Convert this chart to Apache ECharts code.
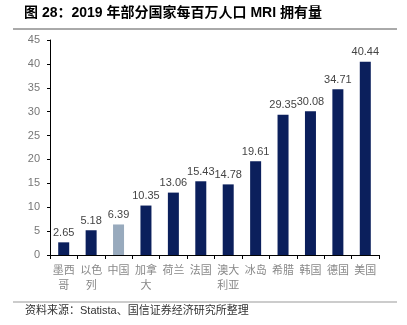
<!DOCTYPE html>
<html><head><meta charset="utf-8">
<script src="https://cdn.jsdelivr.net/npm/echarts@6/dist/echarts.min.js"></script>
<style>html,body{margin:0;padding:0;background:#fff}#c{width:407px;height:325px}</style>
</head><body><div id="c"></div>
<script>
var categories = ['墨西\n哥','以色\n列','中国','加拿\n大','荷兰','法国','澳大\n利亚','冰岛','希腊','韩国','德国','美国'];
var values = [2.65, 5.18, 6.39, 10.35, 13.06, 15.43, 14.78, 19.61, 29.35, 30.08, 34.71, 40.44];
var highlight = '中国';
var yTicks = {min: 0, max: 45, interval: 5};
var titleText = '图 28：2019 年部分国家每百万人口 MRI 拥有量';
var sourceText = '资料来源：Statista、国信证券经济研究所整理';

var FONT = '"Liberation Sans","Noto Sans CJK SC",sans-serif';
var chart = echarts.init(document.getElementById('c'));
chart.setOption({
  animation: false,
  textStyle: {fontFamily: FONT},
  grid: {left: 50, right: 28, top: 40, bottom: 70},
  graphic: [
    {type: 'text', left: 24, top: 6, style: {text: titleText, font: 'bold 14px ' + FONT, fill: '#000'}},
    {type: 'line', shape: {x1: 13, y1: 29, x2: 397, y2: 29}, style: {stroke: '#555', lineWidth: 1}},
    {type: 'line', shape: {x1: 13, y1: 302, x2: 397, y2: 302}, style: {stroke: '#999', lineWidth: 1}},
    {type: 'text', left: 25, top: 305, style: {text: sourceText, font: '11px ' + FONT, fill: '#333'}}
  ],
  xAxis: {
    type: 'category', data: categories,
    axisLine: {lineStyle: {color: '#000', width: 1}},
    axisTick: {show: true, interval: 0, length: 4, lineStyle: {color: '#000'}},
    axisLabel: {interval: 0, color: '#888', fontSize: 11, margin: 7, lineHeight: 15, fontFamily: '"Noto Sans CJK SC",sans-serif'}
  },
  yAxis: {
    type: 'value', min: yTicks.min, max: yTicks.max, interval: yTicks.interval,
    splitLine: {show: false},
    axisLine: {show: true, lineStyle: {color: '#000', width: 1}},
    axisTick: {show: true, length: 3, lineStyle: {color: '#000'}},
    axisLabel: {color: '#777', fontSize: 11, margin: 10}
  },
  series: [{
    type: 'bar', barWidth: 11,
    data: values.map(function (v, i) {
      return {value: v, itemStyle: {color: categories[i] === highlight ? '#98aabd' : '#0b1f5c'}};
    }),
    label: {show: true, position: 'top', distance: 4, color: '#444', fontSize: 11}
  }]
});
</script></body></html>
